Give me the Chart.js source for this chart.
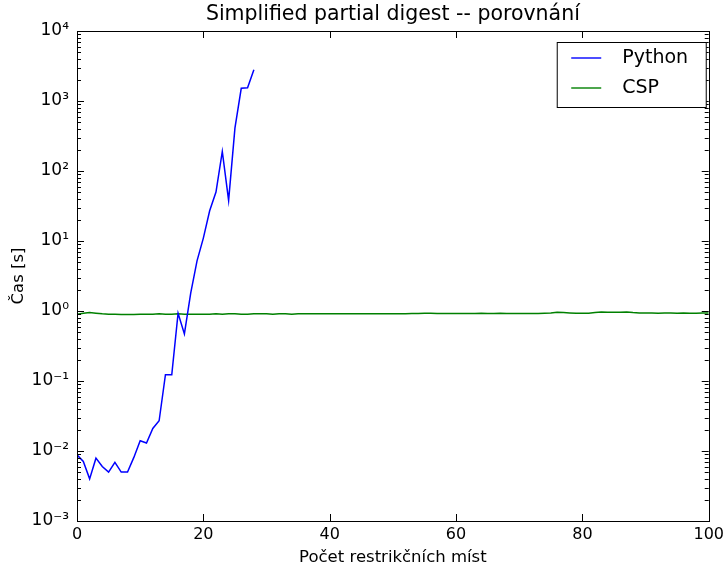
<!DOCTYPE html>
<html>
<head>
<meta charset="utf-8">
<script src="https://cdn.jsdelivr.net/npm/chart.js@4/dist/chart.umd.min.js"></script>
<style>
  html, body { margin: 0; padding: 0; background: #fff; }
  #wrap { width: 728px; height: 566px; }
</style>
</head>
<body>
<div id="wrap"><canvas id="c" width="728" height="566"></canvas></div>
<script>
// number of restriction sites (x)
const sites = [0,1,2,3,4,5,6,7,8,9,10,11,12,13,14,15,16,17,18,19,20,
  21,22,23,24,25,26,27,28,29,30,31,32,33,34,35,36,37,38,39,40,
  41,42,43,44,45,46,47,48,49,50,51,52,53,54,55,56,57,58,59,60,
  61,62,63,64,65,66,67,68,69,70,71,72,73,74,75,76,77,78,79,80,
  81,82,83,84,85,86,87,88,89,90,91,92,93,94,95,96,97,98,99,100];

// run time in seconds
const pythonTimes = [0.0088, 0.0071, 0.0040, 0.0079, 0.0060, 0.0050, 0.0069, 0.0050, 0.0050, 0.0081,
  0.014, 0.013, 0.021, 0.027, 0.123, 0.123, 0.93, 0.47, 1.8, 5.2,
  11, 27, 50, 190, 38, 410, 1520, 1550, 2800];

const cspTimes = [0.90,0.93,0.95,0.93,0.91,0.90,0.90,0.89,0.89,0.89,
  0.90,0.90,0.90,0.91,0.90,0.90,0.91,0.90,0.90,0.90,
  0.90,0.90,0.91,0.90,0.91,0.91,0.90,0.90,0.91,0.91,
  0.91,0.90,0.91,0.91,0.90,0.91,0.91,0.91,0.91,0.91,
  0.91,0.91,0.91,0.91,0.91,0.91,0.91,0.91,0.91,0.91,
  0.91,0.91,0.91,0.92,0.92,0.93,0.93,0.92,0.92,0.92,
  0.92,0.92,0.92,0.92,0.93,0.92,0.92,0.93,0.92,0.92,
  0.92,0.92,0.92,0.92,0.93,0.94,0.96,0.95,0.94,0.93,
  0.93,0.93,0.95,0.97,0.96,0.96,0.96,0.97,0.95,0.94,
  0.94,0.94,0.93,0.94,0.94,0.93,0.94,0.93,0.93,0.94,0.94];

const xTicks = [0, 20, 40, 60, 80, 100];
const yExponents = [-3, -2, -1, 0, 1, 2, 3, 4];
const chartTitle = 'Simplified partial digest -- porovnání';

const FONT = "'DejaVu Sans', sans-serif";
const sup = {'-': '\u207B', '0': '\u2070', '1': '\u00B9', '2': '\u00B2', '3': '\u00B3', '4': '\u2074'};
const toSup = n => String(n).split('').map(ch => sup[ch]).join('');

// matplotlib-style frame, inward ticks on all sides, boxed legend, title over the axes
const framePlugin = {
  id: 'frame',
  afterDatasetsDraw(chart) {
    const {ctx, chartArea: a, scales: {x, y}} = chart;
    ctx.save();
    ctx.strokeStyle = '#000';
    ctx.lineWidth = 1;
    ctx.beginPath();
    // x major ticks
    xTicks.forEach(v => {
      const px = Math.round(x.getPixelForValue(v)) + 0.5;
      ctx.moveTo(px, a.bottom); ctx.lineTo(px, a.bottom - 7);
      ctx.moveTo(px, a.top); ctx.lineTo(px, a.top + 7);
    });
    // y major + minor ticks
    yExponents.forEach(e => {
      for (let m = 1; m <= 9; m++) {
        const v = m * Math.pow(10, e);
        if (v > y.max * 1.0001) break;
        const py = Math.round(y.getPixelForValue(v)) + 0.5;
        const len = m === 1 ? 7 : 4;
        ctx.moveTo(a.left, py); ctx.lineTo(a.left + len, py);
        ctx.moveTo(a.right, py); ctx.lineTo(a.right - len, py);
      }
    });
    ctx.stroke();
    ctx.strokeRect(Math.round(a.left) + 0.5, Math.round(a.top) + 0.5,
      Math.round(a.right - a.left), Math.round(a.bottom - a.top));

    // title, centred over the axes like matplotlib
    ctx.fillStyle = '#000';
    ctx.font = '20.5px ' + FONT;
    ctx.textAlign = 'center';
    ctx.textBaseline = 'middle';
    ctx.fillText(chartTitle, (a.left + a.right) / 2, 15);

    // legend
    const bx = a.right - 151.5, by = a.top + 11.5, bw = 149, bh = 65;
    ctx.fillStyle = '#fff';
    ctx.fillRect(bx, by, bw, bh);
    ctx.strokeRect(bx, by, bw, bh);
    ctx.font = '19px ' + FONT;
    ctx.textAlign = 'left';
    chart.data.datasets.forEach((ds, i) => {
      const ly = by + 15.5 + i * 30;
      ctx.strokeStyle = ds.borderColor;
      ctx.lineWidth = 1.4;
      ctx.beginPath();
      ctx.moveTo(bx + 14, ly); ctx.lineTo(bx + 44, ly);
      ctx.stroke();
      ctx.fillStyle = '#000';
      ctx.fillText(ds.label, bx + 65, ly);
    });
    ctx.restore();
  }
};

new Chart(document.getElementById('c'), {
  type: 'line',
  data: {
    datasets: [
      {
        label: 'Python',
        data: pythonTimes.map((t, i) => ({x: sites[i], y: t})),
        borderColor: '#0000ff',
        borderWidth: 1.5,
        pointRadius: 0,
        tension: 0,
        fill: false
      },
      {
        label: 'CSP',
        data: cspTimes.map((t, i) => ({x: sites[i], y: t})),
        borderColor: '#008000',
        borderWidth: 1.5,
        pointRadius: 0,
        tension: 0,
        fill: false
      }
    ]
  },
  options: {
    responsive: false,
    animation: false,
    layout: {padding: {left: 0, right: 19, top: 31, bottom: 0}},
    plugins: {
      legend: {display: false},
      tooltip: {enabled: false},
      title: {display: false}
    },
    scales: {
      x: {
        type: 'linear',
        min: 0,
        max: 100,
        afterBuildTicks: s => { s.ticks = xTicks.map(v => ({value: v})); },
        afterFit: s => { s.height = 45; },
        grid: {display: false, drawTicks: false},
        border: {display: false},
        ticks: {color: '#000', font: {family: FONT, size: 16}, padding: 4, maxRotation: 0},
        title: {
          display: true,
          text: 'Počet restrikčních míst',
          color: '#000',
          font: {family: FONT, size: 16.5},
          padding: {top: 0, bottom: -2}
        }
      },
      y: {
        type: 'logarithmic',
        min: 1e-3,
        max: 1e4,
        afterBuildTicks: s => { s.ticks = yExponents.map(e => ({value: Math.pow(10, e)})); },
        afterFit: s => { s.width = 77; },
        grid: {display: false, drawTicks: false},
        border: {display: false},
        ticks: {
          color: '#000',
          font: {family: FONT, size: 17},
          padding: 8,
          autoSkip: false,
          callback: v => '10' + toSup(Math.round(Math.log10(v)))
        },
        title: {
          display: true,
          text: 'Čas [s]',
          color: '#000',
          font: {family: FONT, size: 16.5},
          padding: {top: 9, bottom: 0}
        }
      }
    }
  },
  plugins: [framePlugin]
});
</script>
</body>
</html>
